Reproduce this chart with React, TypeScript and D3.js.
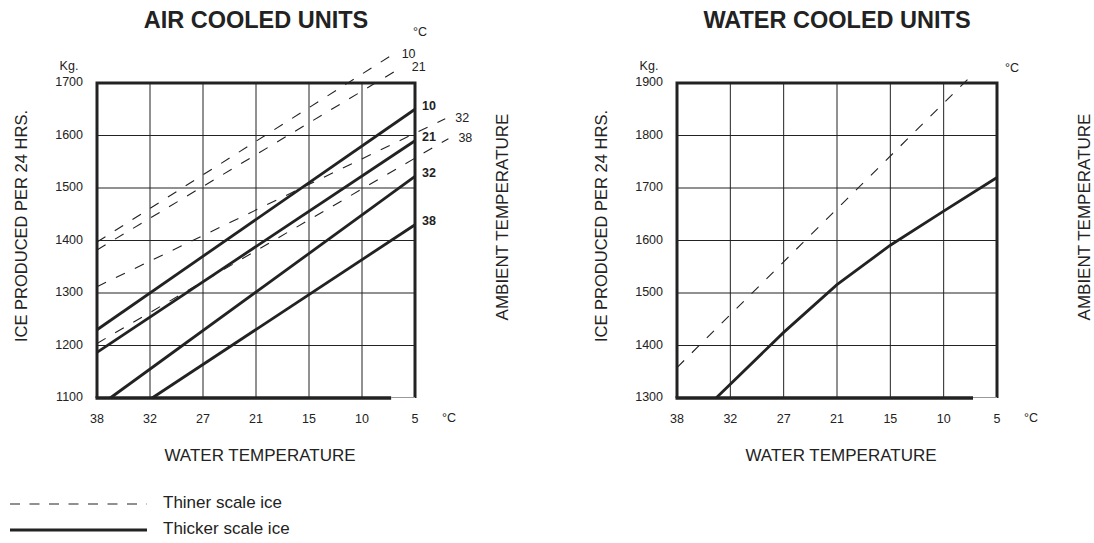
import React from 'react';
import * as d3 from 'd3';

// water temperature ticks (equally spaced on the chart)
const waterTemps = [38, 32, 27, 21, 15, 10, 5];
const airTicks = [1100, 1200, 1300, 1400, 1500, 1600, 1700];
const waterTicks = [1300, 1400, 1500, 1600, 1700, 1800, 1900];

type Pt = [number, number];
interface Series { ambient: string; points: Pt[] }

// air cooled, thicker scale ice (solid)
const airThick: Series[] = [
  { ambient: '10', points: [[38, 1230], [5, 1650]] },
  { ambient: '21', points: [[38, 1187], [5, 1590]] },
  { ambient: '32', points: [[36.5, 1100], [5, 1522]] },
  { ambient: '38', points: [[31.8, 1100], [5, 1430]] },
];
// air cooled, thinner scale ice (dashed)
const airThin: Series[] = [
  { ambient: '10', points: [[38, 1397], [7.2, 1753]] },
  { ambient: '21', points: [[38, 1382], [6.25, 1730]] },
  { ambient: '32', points: [[38, 1312], [2.15, 1632]] },
  { ambient: '38', points: [[38, 1204], [1.85, 1594]] },
];
// water cooled
const waterThick: Series[] = [
  { ambient: '', points: [[33.6, 1300], [27, 1425], [21, 1516], [15, 1591], [10, 1656], [5, 1720]] },
];
const waterThin: Series[] = [
  { ambient: '', points: [[38, 1358], [7.4, 1914]] },
];

const INK = '#222';
const FONT = 'Liberation Sans, Arial, Helvetica, sans-serif';

interface PanelProps {
  title: string;
  left: number;
  width: number;
  yTicks: number[];
  thick: Series[];
  thin: Series[];
  topUnit: [number, number];
}

const top = 83;
const bottom = 398;

const Panel: React.FC<PanelProps> = ({ title, left, width, yTicks, thick, thin, topUnit }) => {
  const right = left + width;
  const step = width / (waterTemps.length - 1);
  const x = d3.scaleLinear()
    .domain(waterTemps)
    .range(waterTemps.map((_, i) => left + i * step));
  const y = d3.scaleLinear()
    .domain([yTicks[0], yTicks[yTicks.length - 1]])
    .range([bottom, top]);
  const line = d3.line<Pt>().x(d => x(d[0])).y(d => y(d[1]));
  const cx = (left + right) / 2;
  const heavyEnd = left + width * 0.925;

  return (
    <g fontFamily={FONT} fill={INK}>
      <text x={cx} y={28} textAnchor="middle" fontSize={23.5} fontWeight="bold">{title}</text>

      {/* grid */}
      {yTicks.slice(1, -1).map(t => (
        <line key={'h' + t} x1={left} x2={right} y1={y(t)} y2={y(t)} stroke={INK} strokeWidth={1} />
      ))}
      {waterTemps.slice(1, -1).map(t => (
        <line key={'v' + t} x1={x(t)} x2={x(t)} y1={top} y2={bottom} stroke={INK} strokeWidth={1} />
      ))}

      {/* frame */}
      <path d={`M${left},${bottom}V${top}H${right}V${bottom}`} fill="none" stroke={INK} strokeWidth={3} />
      <line x1={left - 1.5} x2={heavyEnd} y1={bottom} y2={bottom} stroke={INK} strokeWidth={3.5} />
      <line x1={heavyEnd} x2={right} y1={bottom - 0.5} y2={bottom - 0.5} stroke="#999" strokeWidth={1} />

      {/* series */}
      {thin.map((s, i) => (
        <path key={'d' + i} d={line(s.points) || ''} fill="none" stroke={INK} strokeWidth={1.1} strokeDasharray="10,11" />
      ))}
      {thick.map((s, i) => (
        <path key={'s' + i} d={line(s.points) || ''} fill="none" stroke={INK} strokeWidth={2.8} />
      ))}

      {thin.filter(s => s.ambient).map((s, i) => {
        const p = s.points[s.points.length - 1];
        return (
          <text key={'dl' + i} x={x(p[0]) + 10} y={y(p[1])} fontSize={12.5} dominantBaseline="middle">{s.ambient}</text>
        );
      })}
      {thick.filter(s => s.ambient).map((s, i) => {
        const p = s.points[s.points.length - 1];
        return (
          <text key={'sl' + i} x={right + 7} y={y(p[1]) - 3} fontSize={12.5} fontWeight="bold" dominantBaseline="middle">{s.ambient}</text>
        );
      })}
      <text x={topUnit[0]} y={topUnit[1]} fontSize={12.5} textAnchor="middle" dominantBaseline="middle">°C</text>

      {/* y axis labels */}
      <text x={left - 28} y={67} fontSize={12.5} textAnchor="middle" dominantBaseline="middle">Kg.</text>
      {yTicks.map(t => (
        <text key={'yt' + t} x={left - 14} y={y(t)} fontSize={12.5} textAnchor="end" dominantBaseline="middle">{t}</text>
      ))}
      {/* x axis labels */}
      {waterTemps.map(t => (
        <text key={'xt' + t} x={x(t)} y={420} fontSize={12.5} textAnchor="middle" dominantBaseline="middle">{t}</text>
      ))}
      <text x={right + 34} y={419} fontSize={12.5} textAnchor="middle" dominantBaseline="middle">°C</text>

      <text x={cx + 4} y={457} fontSize={17} textAnchor="middle" dominantBaseline="middle">WATER TEMPERATURE</text>
      <text transform={`translate(${left - 70},${226}) rotate(-90)`} fontSize={16.5} textAnchor="middle">ICE PRODUCED PER 24 HRS.</text>
      <text transform={`translate(${right + 93},${217}) rotate(-90)`} fontSize={17} textAnchor="middle">AMBIENT TEMPERATURE</text>
    </g>
  );
};

export default function App() {
  return (
    <svg width={1094} height={543} style={{ position: 'absolute', left: 0, top: 0, background: '#fff' }}>
      <Panel title="AIR COOLED UNITS" left={97} width={318} yTicks={airTicks} thick={airThick} thin={airThin} topUnit={[420, 33]} />
      <Panel title="WATER COOLED UNITS" left={677} width={320} yTicks={waterTicks} thick={waterThick} thin={waterThin} topUnit={[1012, 69]} />

      {/* legend */}
      <g fontFamily={FONT} fill={INK}>
        <line x1={10} x2={147} y1={504} y2={504} stroke={INK} strokeWidth={1.1} strokeDasharray="10,9.5" />
        <text x={163} y={504} fontSize={17} dominantBaseline="middle">Thiner scale ice</text>
        <line x1={10} x2={147} y1={530} y2={530} stroke={INK} strokeWidth={2.8} />
        <text x={163} y={530} fontSize={17} dominantBaseline="middle">Thicker scale ice</text>
      </g>
    </svg>
  );
}
